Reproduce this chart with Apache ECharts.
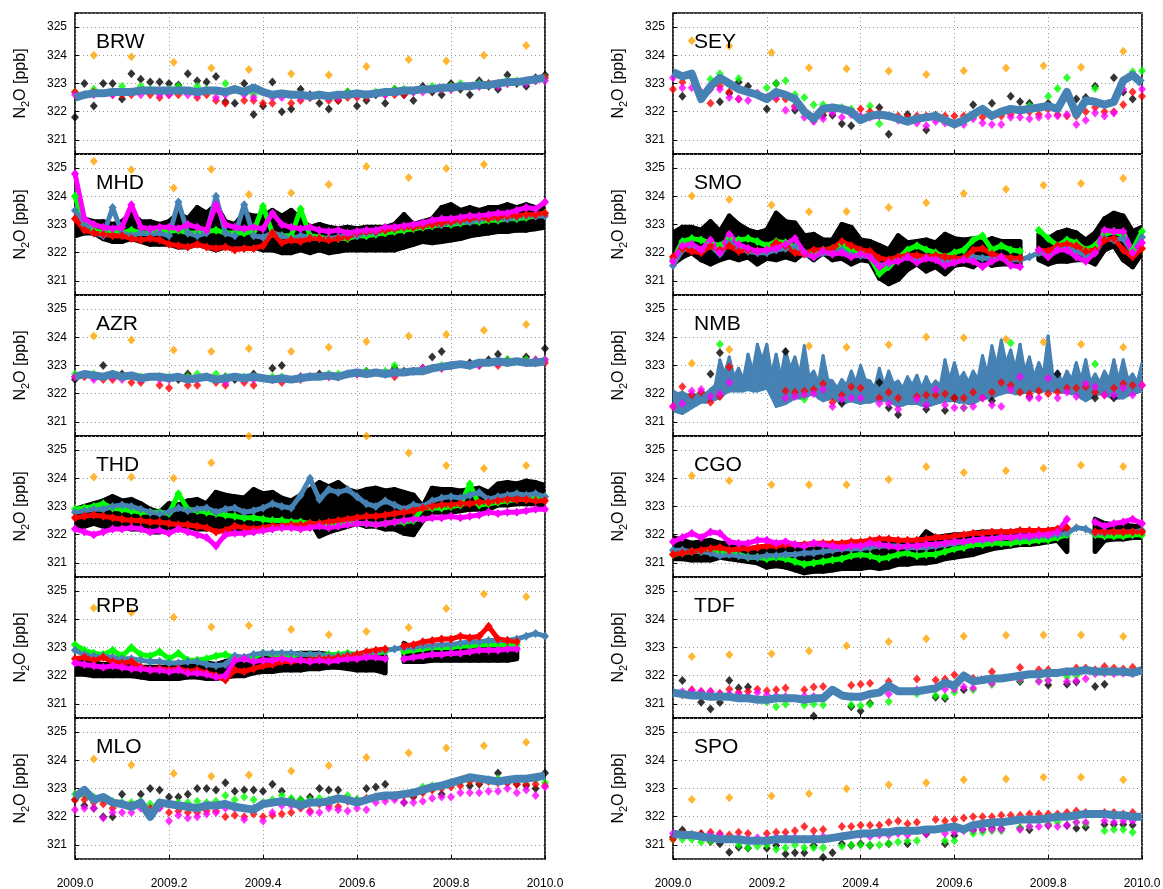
<!DOCTYPE html>
<html><head><meta charset="utf-8">
<script src="https://cdn.jsdelivr.net/npm/echarts/dist/echarts.min.js"></script>
<style>html,body{margin:0;padding:0;background:#fff}#c{width:1163px;height:889px}</style>
</head><body><div id="c"></div>
<script>
// ---------- time axes ----------
const T = [2009.00,2009.02,2009.04,2009.06,2009.08,2009.10,2009.12,2009.14,2009.16,2009.18,
2009.20,2009.22,2009.24,2009.26,2009.28,2009.30,2009.32,2009.34,2009.36,2009.38,
2009.40,2009.42,2009.44,2009.46,2009.48,2009.50,2009.52,2009.54,2009.56,2009.58,
2009.60,2009.62,2009.64,2009.66,2009.68,2009.70,2009.72,2009.74,2009.76,2009.78,
2009.80,2009.82,2009.84,2009.86,2009.88,2009.90,2009.92,2009.94,2009.96,2009.98,2010.00];
const TF = [2009.00,2009.01,2009.02,2009.03,2009.04,2009.05,2009.06,2009.07,2009.08,2009.09,
2009.10,2009.11,2009.12,2009.13,2009.14,2009.15,2009.16,2009.17,2009.18,2009.19,
2009.20,2009.21,2009.22,2009.23,2009.24,2009.25,2009.26,2009.27,2009.28,2009.29,
2009.30,2009.31,2009.32,2009.33,2009.34,2009.35,2009.36,2009.37,2009.38,2009.39,
2009.40,2009.41,2009.42,2009.43,2009.44,2009.45,2009.46,2009.47,2009.48,2009.49,
2009.50,2009.51,2009.52,2009.53,2009.54,2009.55,2009.56,2009.57,2009.58,2009.59,
2009.60,2009.61,2009.62,2009.63,2009.64,2009.65,2009.66,2009.67,2009.68,2009.69,
2009.70,2009.71,2009.72,2009.73,2009.74,2009.75,2009.76,2009.77,2009.78,2009.79,
2009.80,2009.81,2009.82,2009.83,2009.84,2009.85,2009.86,2009.87,2009.88,2009.89,
2009.90,2009.91,2009.92,2009.93,2009.94,2009.95,2009.96,2009.97,2009.98,2009.99,2010.00];
const M = [2009.04,2009.12,2009.21,2009.29,2009.37,2009.46,2009.54,2009.62,2009.71,2009.79,2009.87,2009.96];
const X_TICKS = [2009.0,2009.2,2009.4,2009.6,2009.8,2010.0];
const Y_TICKS = [321,322,323,324,325];

// ---------- BRW ----------
const BRW_black = [321.8,323.0,322.2,323.0,323.0,322.45,323.35,323.15,323.05,323.05,
323.0,322.95,323.35,323.1,323.05,323.25,322.35,322.3,323.0,321.9,
322.2,323.05,322.0,322.1,322.8,322.6,322.3,322.1,322.4,322.7,
322.2,322.4,322.6,322.3,322.8,322.6,322.4,322.9,322.7,322.6,
323.0,322.8,322.6,323.1,322.9,322.8,323.3,323.0,322.9,323.2,323.3];
const BRW_green = [322.7,null,322.8,null,322.7,322.9,null,322.9,322.8,null,
322.8,322.9,null,322.9,322.8,null,323.0,322.8,null,322.6,
322.7,null,322.6,322.6,null,322.5,322.6,null,322.5,322.7,
null,322.6,322.7,null,322.8,322.8,null,322.8,322.9,null,
322.9,323.0,null,323.0,323.0,null,323.1,323.1,null,323.1,323.2];
const BRW_red = [322.7,322.6,322.7,null,322.6,322.6,322.6,null,322.6,322.5,
322.6,322.6,null,322.5,322.6,322.4,322.3,null,322.4,322.4,
322.3,322.3,null,322.3,322.4,322.5,null,322.4,322.4,322.5,
322.5,322.5,null,322.6,322.6,322.6,322.7,null,322.8,322.8,
322.8,322.9,null,322.9,323.0,323.0,323.0,null,323.1,323.1,323.2];
const BRW_magenta = [322.6,null,322.6,null,322.6,null,322.7,322.6,null,322.6,
322.6,null,322.6,322.6,null,322.5,322.6,null,322.6,322.5,
null,322.5,322.5,null,322.5,322.5,null,322.5,322.5,null,
322.6,322.6,null,322.6,322.7,null,322.7,322.7,null,322.8,
322.8,null,322.9,322.9,null,322.9,323.0,null,323.0,323.1,323.1];
const BRW_blue = [322.5,322.6,322.65,322.65,322.7,322.7,322.7,322.75,322.75,322.75,
322.75,322.75,322.75,322.7,322.75,322.75,322.7,322.8,322.7,322.85,
322.7,322.6,322.65,322.6,322.6,322.55,322.6,322.55,322.6,322.6,
322.65,322.6,322.65,322.7,322.7,322.75,322.75,322.8,322.8,322.85,
322.85,322.9,322.9,322.95,322.95,323.0,323.05,323.05,323.1,323.15,323.2];
const BRW_orange = [324.0,323.95,323.75,323.55,323.5,323.35,323.3,323.6,323.85,323.8,324.0,324.35];

// ---------- MHD ----------
const MHD_black_lo = [322.6,322.7,322.7,322.5,322.4,322.4,322.5,322.4,322.3,322.3,
322.3,322.2,322.2,322.3,322.2,322.1,322.2,322.3,322.3,322.2,
322.1,322.1,322.0,322.0,322.1,322.0,322.1,322.0,322.05,322.1,
322.1,322.1,322.1,322.1,322.1,322.2,322.3,322.4,322.35,322.4,
322.45,322.5,322.6,322.65,322.7,322.75,322.75,322.8,322.8,322.85,322.9];
const MHD_black_hi = [323.5,323.2,323.1,323.1,323.0,323.1,323.4,323.1,323.1,323.0,
323.1,323.4,323.2,323.6,323.4,323.7,323.1,323.0,323.4,323.3,
323.3,323.5,323.3,323.5,323.2,322.9,323.0,322.9,322.85,322.9,
322.85,322.9,322.9,322.9,323.0,323.35,323.0,323.1,323.2,323.6,
323.7,323.5,323.6,323.5,323.6,323.6,323.7,323.6,323.7,323.6,323.6];
const MHD_green = [324.0,323.0,322.8,322.7,322.8,322.7,322.8,322.7,322.7,322.8,
322.75,322.8,322.7,322.7,322.75,322.8,322.7,322.7,322.7,322.75,
323.65,322.7,322.6,322.6,323.55,322.6,322.55,322.5,322.5,322.5,
322.6,322.6,322.65,322.7,322.75,322.8,322.85,322.9,322.95,323.0,
323.0,323.05,323.1,323.1,323.15,323.15,323.2,323.2,323.25,323.3,323.4];
const MHD_red = [323.2,322.8,322.7,322.65,322.6,322.6,322.5,322.45,322.5,322.45,
322.3,322.25,322.2,322.3,322.2,322.15,322.2,322.1,322.15,322.15,
322.25,322.7,322.35,322.45,322.4,322.5,322.5,322.45,322.5,322.55,
322.7,322.75,322.75,322.8,322.85,322.9,322.9,322.95,323.0,323.05,
323.1,323.15,323.2,323.25,323.2,323.25,323.3,323.3,323.35,323.35,323.4];
const MHD_magenta = [324.8,323.2,323.0,322.9,322.85,322.9,323.7,322.9,322.85,322.9,
322.9,322.85,323.0,322.9,322.8,323.7,323.0,322.9,322.85,322.9,
322.85,323.4,323.0,322.9,322.85,322.9,322.8,322.75,322.8,322.7,
322.75,322.8,322.8,322.9,322.9,322.95,323.0,323.05,323.15,323.2,
323.2,323.25,323.3,323.3,323.35,323.4,323.4,323.5,323.6,323.55,323.8];
const MHD_blue = [323.5,323.0,322.7,322.6,323.6,322.7,322.6,322.7,322.65,322.7,
322.6,323.8,322.7,322.6,322.7,324.0,322.7,322.6,323.7,322.6,
322.55,322.7,322.6,322.5,322.6,322.55,322.5,322.5,322.55,322.6,
322.6,322.7,322.7,322.8,322.85,322.9,322.9,322.95,323.0,323.0,
323.05,323.1,323.1,323.15,323.2,323.2,323.2,323.25,323.3,323.3,323.3];
const MHD_orange = [325.24,324.94,324.29,324.96,324.06,324.12,324.42,325.06,324.67,324.99,325.13,null];

// ---------- AZR ----------
const AZR_black = [322.5,null,322.6,323.0,null,322.7,null,322.5,null,322.6,
null,322.5,322.7,null,322.6,null,322.6,322.5,null,322.7,
null,322.9,323.0,null,322.6,null,322.7,null,322.6,322.7,
null,322.8,null,322.7,322.9,322.8,null,322.9,323.3,323.5,
323.0,null,323.1,null,323.2,323.4,323.2,null,323.3,323.1,323.6];
const AZR_green = [322.7,null,322.7,null,322.7,322.6,null,322.6,null,322.6,
322.6,null,322.6,322.7,null,322.7,322.6,null,322.6,322.6,
null,322.6,322.6,null,322.6,322.6,null,322.7,322.7,null,
322.7,322.8,null,322.8,323.0,null,322.8,322.9,null,323.0,
323.0,null,323.0,323.1,null,323.1,323.2,null,323.2,323.2,323.2];
const AZR_red = [322.6,322.6,null,322.5,322.5,null,322.4,322.4,null,322.3,
322.2,null,322.3,322.3,null,322.4,322.3,null,322.4,322.3,
null,322.5,322.4,null,322.5,322.6,null,322.6,322.6,null,
322.7,322.7,null,322.7,322.6,null,322.8,322.9,null,322.9,
323.0,null,323.0,323.0,null,323.0,323.1,null,323.1,323.1,323.1];
const AZR_magenta = [322.6,null,322.5,null,322.6,322.5,null,322.5,null,322.5,
322.5,null,322.5,322.5,null,322.5,322.4,null,322.5,322.5,
null,322.5,322.5,null,322.6,322.6,null,322.6,322.6,null,
322.7,322.7,null,322.7,322.7,null,322.8,322.9,null,322.9,
323.0,null,323.0,323.0,null,323.1,323.1,null,323.1,323.2,323.2];
const AZR_blue = [322.6,322.7,322.65,322.6,322.7,322.6,322.65,322.55,322.6,322.6,
322.55,322.6,322.5,322.55,322.6,322.5,322.55,322.6,322.55,322.6,
322.55,322.5,322.55,322.5,322.55,322.6,322.6,322.65,322.6,322.7,
322.75,322.7,322.75,322.7,322.75,322.75,322.8,322.8,322.9,322.95,
323.0,323.05,323.0,323.1,323.1,323.15,323.1,323.15,323.1,323.1,323.15];
const AZR_orange = [324.05,323.9,323.55,323.5,323.6,323.5,323.65,323.85,324.05,324.1,324.25,324.45];

// ---------- THD ----------
const THD_black_lo = [322.2,322.3,322.4,322.3,322.2,322.3,322.2,322.2,322.1,322.1,
322.2,322.3,322.3,322.2,322.2,322.3,322.2,322.2,322.2,322.2,
322.2,322.4,322.4,322.3,322.3,322.5,321.95,322.1,322.2,322.3,
322.4,322.3,322.3,322.2,322.2,322.05,322.0,322.5,322.8,322.8,
322.8,322.85,322.9,322.9,322.9,323.05,323.05,323.1,323.1,323.1,323.0];
const THD_black_hi = [322.9,323.0,323.1,323.2,323.35,323.2,323.25,323.1,322.9,322.8,
323.1,323.05,323.2,323.25,323.1,323.5,323.4,323.35,323.3,323.6,
323.45,323.5,323.3,323.2,323.4,323.6,323.85,323.7,323.85,323.6,
323.5,323.6,323.65,323.55,323.6,323.5,323.4,323.0,323.65,323.6,
323.6,323.55,323.6,323.65,323.5,323.8,323.85,323.8,323.9,323.85,323.75];
const THD_green = [322.9,322.95,323.0,323.1,322.95,322.9,322.85,322.8,322.8,322.8,
322.75,323.45,322.9,322.85,322.8,322.75,322.7,322.65,322.6,322.6,
322.55,322.5,322.5,322.45,322.45,322.4,322.4,322.35,322.35,322.4,
322.4,322.4,322.35,322.4,322.45,322.45,322.5,322.95,322.95,322.95,
323.0,323.05,323.8,323.05,323.1,323.15,323.2,323.25,323.25,323.3,323.35];
const THD_red = [322.6,322.65,322.7,322.65,322.6,322.55,322.5,322.5,322.45,322.45,
322.4,322.35,322.35,322.3,322.25,322.1,322.15,322.3,322.25,322.2,
322.25,322.3,322.3,322.35,322.35,322.4,322.4,322.45,322.5,322.55,
322.6,322.65,322.65,322.7,322.75,322.8,322.85,322.95,323.0,323.05,
323.05,323.1,323.1,323.15,323.15,323.2,323.25,323.25,323.25,323.2,323.2];
const THD_magenta = [322.2,322.1,322.0,322.1,322.2,322.2,322.25,322.2,322.1,322.15,
322.05,322.2,322.1,322.0,321.9,321.6,322.0,322.05,322.05,322.1,
322.15,322.2,322.25,322.25,322.2,322.25,322.3,322.25,322.3,322.35,
322.4,322.4,322.35,322.4,322.45,322.5,322.55,322.55,322.6,322.6,
322.65,322.6,322.65,322.7,322.8,322.75,322.8,322.8,322.85,322.9,322.9];
const THD_blue = [322.8,322.85,322.9,322.9,323.0,323.05,323.0,322.9,322.8,322.75,
322.8,322.95,322.85,322.9,322.95,322.8,322.9,322.95,322.8,322.85,
322.95,323.1,323.0,322.95,323.4,324.0,323.25,323.6,323.5,323.6,
323.35,323.1,323.0,323.2,323.05,322.9,323.05,323.0,323.2,323.3,
323.35,323.3,323.4,323.5,323.25,323.35,323.4,323.45,323.4,323.45,323.35];
const THD_orange = [324.05,324.05,324.0,324.55,325.5,null,null,325.5,324.9,324.45,324.35,324.45];

// ---------- RPB ----------
const RPB_black_lo = [322.05,322.05,322.0,322.0,322.0,322.0,322.0,321.95,321.9,321.9,
321.9,321.9,321.95,321.95,321.9,321.9,321.95,322.0,322.0,322.1,
322.15,322.15,322.2,322.2,322.2,322.25,322.25,322.3,322.3,322.25,
322.2,322.2,322.2,322.1,null,322.5,322.5,322.5,322.55,322.55,
322.55,322.55,322.55,322.55,322.55,322.55,322.55,322.6,null,null,null];
const RPB_black_hi = [322.5,322.5,322.45,322.4,322.4,322.4,322.35,322.3,322.3,322.3,
322.3,322.35,322.4,322.5,322.45,322.4,322.5,322.6,322.55,322.65,
322.7,322.75,322.8,322.75,322.8,322.8,322.8,322.75,322.75,322.75,
322.7,322.7,322.75,322.7,null,323.15,322.95,322.9,322.9,322.95,
322.95,322.95,322.95,322.95,322.95,322.95,322.95,323.0,null,null,null];
const RPB_green = [323.1,322.9,322.8,322.75,322.9,322.7,323.0,322.75,322.7,322.85,
322.6,322.8,322.55,322.55,322.6,322.7,322.75,322.65,322.6,322.65,
322.8,322.75,322.75,322.7,322.75,322.75,322.7,322.75,322.75,322.8,
322.75,322.8,322.8,322.85,null,322.85,322.9,322.95,323.0,323.0,
323.0,323.05,323.05,323.1,323.1,323.1,323.1,323.1,null,null,null];
const RPB_red = [322.6,322.65,322.55,322.65,322.5,322.45,322.5,322.3,322.2,322.25,
322.2,322.25,322.15,322.2,322.1,322.0,321.85,322.2,322.15,322.25,
322.35,322.4,322.5,322.5,322.55,322.55,322.6,322.6,322.65,322.7,
322.75,322.85,322.9,322.95,null,323.05,323.1,323.2,323.25,323.3,
323.3,323.4,323.35,323.4,323.75,323.3,323.25,323.2,null,null,null];
const RPB_magenta = [322.45,322.4,322.35,322.3,322.35,322.3,322.25,322.25,322.2,322.2,
322.15,322.2,322.1,322.1,322.05,321.95,322.0,322.55,322.6,322.5,
322.55,322.55,322.6,322.55,322.55,322.5,322.55,322.5,322.55,322.6,
322.6,322.65,322.65,322.6,null,322.6,322.65,322.7,322.75,322.75,
322.8,322.8,322.85,322.9,322.9,322.9,322.95,322.95,null,null,null];
const RPB_blue = [322.9,322.75,322.7,322.7,322.65,322.6,322.6,322.55,322.5,322.5,
322.45,322.45,322.5,322.5,322.4,322.35,322.4,322.7,322.65,322.75,
322.8,322.8,322.8,322.8,322.75,322.75,322.75,322.7,322.7,322.75,
322.75,322.8,322.85,322.9,322.95,323.0,323.0,323.05,323.05,323.1,
323.1,323.15,323.2,323.2,323.25,323.25,323.25,323.3,323.4,323.5,323.4];
const RPB_orange = [324.4,324.24,324.07,323.73,323.78,323.64,323.45,323.57,323.71,324.38,324.9,324.8];

// ---------- MLO ----------
const MLO_black = [322.6,322.4,322.3,322.0,322.0,322.8,322.4,322.8,323.0,322.95,
322.7,322.7,322.8,323.0,323.0,322.95,323.2,322.9,322.95,322.95,
322.9,323.15,322.9,322.6,322.6,322.7,323.0,322.95,322.95,322.6,
322.6,323.0,323.05,323.15,322.7,322.5,322.7,322.9,323.0,322.8,
323.2,323.25,323.1,323.15,323.3,323.55,323.2,323.15,323.1,323.0,323.55];
const MLO_green = [322.8,322.75,322.7,322.6,322.55,322.5,322.5,322.55,322.45,322.5,
322.45,322.5,322.5,322.55,322.5,322.55,322.75,322.6,322.7,322.6,
322.5,322.6,322.75,322.65,322.6,322.6,322.65,322.6,322.65,322.75,
322.6,322.6,322.7,322.7,322.75,322.8,322.85,323.05,323.1,323.1,
323.15,323.25,323.3,323.3,323.3,323.35,323.25,323.3,323.3,323.3,323.2];
const MLO_red = [322.6,322.6,322.5,322.45,322.3,322.45,322.4,322.45,322.3,322.35,
322.15,322.2,322.15,322.15,322.2,322.2,322.0,322.05,322.0,322.1,
322.0,322.05,322.1,322.15,322.3,322.2,322.45,322.4,322.35,322.55,
322.5,322.65,322.7,322.7,322.75,322.75,322.75,322.85,322.95,323.0,
323.05,323.1,323.25,323.2,323.25,323.2,323.2,323.15,323.15,323.15,323.1];
const MLO_magenta = [322.25,322.3,322.3,321.95,322.15,322.15,322.15,322.3,322.0,322.3,
321.85,322.05,321.95,322.0,322.1,322.15,322.3,322.3,321.9,322.3,
321.85,322.15,322.4,322.4,322.35,322.15,322.15,322.3,322.25,322.2,
322.3,322.25,322.5,322.55,322.6,322.5,322.5,322.55,322.65,322.7,
322.7,322.85,322.85,322.85,322.9,322.9,323.0,322.85,322.95,322.75,323.05];
const MLO_blue = [322.7,322.95,322.6,322.7,322.5,322.45,322.35,322.5,322.0,322.5,
322.45,322.4,322.35,322.3,322.4,322.4,322.45,322.35,322.3,322.25,
322.45,322.5,322.55,322.5,322.4,322.5,322.5,322.55,322.65,322.6,
322.5,322.6,322.7,322.75,322.75,322.8,322.85,322.95,323.05,323.1,
323.2,323.3,323.4,323.35,323.3,323.25,323.3,323.35,323.35,323.4,323.45];
const MLO_orange = [324.05,323.83,323.53,323.43,323.48,323.62,323.82,324.1,324.26,324.44,324.52,324.64];

// ---------- SEY ----------
const SEY_black = [null,322.55,null,null,null,322.35,322.65,323.05,322.9,null,
322.1,323.0,null,322.05,null,null,321.87,321.87,321.57,321.5,
321.75,null,322.15,321.2,null,321.9,null,321.35,321.87,null,
null,null,322.25,322.05,322.3,null,322.55,322.35,322.3,null,
322.3,null,null,322.45,322.5,322.9,null,323.2,322.7,322.45,null];
const SEY_green = [null,null,null,null,323.15,323.35,null,323.18,null,322.65,
322.85,323.0,323.1,322.6,322.5,322.25,322.25,null,322.15,322.1,
null,322.2,321.57,null,null,null,null,null,null,null,
null,null,321.8,null,null,null,null,null,322.2,null,
322.55,322.82,323.2,null,null,322.82,null,null,null,323.42,323.45];
const SEY_red = [322.8,323.05,null,null,322.3,322.9,322.7,322.45,null,null,
322.5,322.45,322.45,322.2,null,321.7,322.0,322.1,null,322.0,
322.1,322.0,321.95,null,321.85,321.8,321.85,321.85,321.8,321.85,
321.85,321.85,321.9,321.8,321.85,321.85,321.9,322.0,322.0,321.9,
322.1,321.9,321.85,321.85,322.0,322.15,322.0,322.0,322.25,322.7,322.55];
const SEY_magenta = [323.2,322.85,322.85,322.7,322.8,322.8,322.5,322.45,322.4,322.65,
322.5,322.55,322.05,322.15,321.8,321.65,321.75,321.95,321.8,321.9,
321.85,321.8,321.85,321.85,321.7,321.65,321.6,321.5,321.65,321.6,
321.55,321.55,321.75,321.6,321.55,321.55,321.8,321.8,321.75,321.8,
321.85,321.85,321.9,321.55,321.7,321.95,321.85,321.95,322.8,323.3,322.8];
const SEY_blue = [323.4,323.25,323.35,322.45,322.9,323.2,323.0,322.8,322.7,322.6,
322.45,322.7,322.6,322.45,322.0,321.75,322.1,322.15,322.1,322.0,
321.7,321.85,321.9,321.85,321.75,321.65,321.75,321.8,321.85,321.7,
321.55,321.7,321.9,322.1,321.85,322.0,322.1,322.05,322.1,322.15,
322.2,322.1,322.7,321.9,322.4,322.35,322.25,322.35,323.1,323.3,323.0];
const SEY_orange = [324.52,324.33,324.1,323.56,323.52,323.44,323.32,323.45,323.55,323.63,323.58,324.14];

// ---------- SMO ----------
const SMO_black_lo = [321.6,321.85,322.0,321.75,321.6,321.75,321.85,321.75,321.85,321.6,
321.8,321.75,321.85,321.75,322.0,321.75,322.0,321.75,321.8,321.6,
321.75,321.7,321.1,320.9,321.05,321.4,321.6,321.35,321.5,321.25,
321.55,321.6,321.5,321.75,321.55,321.6,321.6,321.6,null,321.75,
321.6,321.7,321.7,321.75,321.75,321.6,322.1,322.25,321.75,321.5,322.0];
const SMO_black_hi = [322.7,322.9,322.9,322.8,323.1,322.75,323.3,323.0,322.8,322.7,
322.8,323.4,323.1,323.05,322.6,322.65,322.45,322.45,323.0,322.9,
322.45,322.4,322.25,322.1,322.6,322.35,322.4,322.45,322.35,322.65,
322.5,322.45,322.5,322.35,322.5,322.4,322.4,322.4,null,322.65,
322.5,322.7,322.8,322.7,322.45,322.7,323.2,323.4,323.3,322.75,322.9];
const SMO_green = [321.75,322.4,322.5,322.45,322.35,322.25,322.5,322.45,322.5,322.4,
322.25,322.4,322.35,322.2,322.0,322.05,322.1,322.15,322.3,322.1,
322.05,321.85,321.25,321.5,321.8,322.1,322.25,322.1,322.0,321.85,
322.0,322.1,322.45,322.6,322.1,322.25,322.1,322.05,null,322.8,
322.5,322.25,322.45,322.35,322.1,322.25,322.65,322.75,322.6,322.1,322.75];
const SMO_red = [321.85,322.15,322.05,322.0,322.25,322.1,322.25,322.05,322.1,322.05,
322.1,322.35,322.25,322.0,321.95,322.1,322.1,322.15,322.4,322.25,
322.1,322.05,321.8,321.75,321.85,321.9,321.9,321.85,321.9,321.85,
321.8,321.8,322.1,322.15,321.95,321.85,321.8,321.8,null,322.1,
322.05,322.25,322.3,322.25,322.05,322.1,322.45,322.5,322.1,321.85,322.15];
const SMO_magenta = [321.7,322.25,322.3,322.1,322.45,322.0,322.65,322.3,322.15,322.05,
322.1,322.15,322.3,322.5,322.0,321.85,322.05,321.95,322.0,321.85,
321.95,321.85,321.5,321.65,321.7,321.85,321.65,321.8,321.75,321.55,
321.65,321.75,321.7,321.5,321.7,321.85,321.55,321.5,null,322.1,
321.85,322.1,322.1,321.85,321.7,322.0,322.8,322.75,322.75,322.0,322.35];
const SMO_blue = [321.55,322.1,322.2,322.05,322.25,321.95,322.35,322.15,322.05,322.0,
322.0,322.1,322.15,322.2,321.95,321.85,322.0,321.95,322.1,321.9,
321.9,321.85,321.55,321.6,321.75,321.85,321.75,321.85,321.8,321.7,
321.75,321.8,321.85,321.8,321.8,321.85,321.75,321.75,321.85,322.0,
321.95,322.15,322.2,322.05,321.9,322.0,322.5,322.45,322.5,322.0,322.55];
const SMO_orange = [324.01,323.89,323.69,323.45,323.46,323.6,323.77,324.1,324.25,324.39,324.45,324.64];

// ---------- NMB ----------
const NMB_black = [null,null,null,null,322.7,323.45,null,null,null,null,
null,null,323.5,null,null,null,null,null,321.65,null,
null,null,322.4,321.5,321.25,null,null,321.45,null,321.4,
321.85,null,null,null,321.75,null,null,null,321.9,null,
null,322.7,null,null,null,321.85,null,321.85,null,null,null];
const NMB_green = [null,null,null,null,null,323.75,null,null,null,null,
null,null,null,null,321.8,null,null,null,null,null,
null,null,null,null,null,null,null,null,null,null,
null,321.5,null,null,null,null,323.8,null,null,null,
null,null,null,null,null,323.05,null,null,null,null,null];
const NMB_red = [321.55,322.25,321.95,322.05,321.7,321.9,322.95,null,null,null,
null,null,322.1,322.05,322.1,322.15,322.35,321.7,321.95,322.25,
322.2,null,321.85,322.05,321.85,null,321.9,321.95,321.95,322.0,
321.85,321.85,322.05,321.85,322.05,322.4,322.3,322.05,322.0,322.1,
322.0,322.05,322.2,322.2,322.25,322.05,321.95,322.2,322.35,322.3,322.3];
const NMB_magenta = [321.55,321.65,322.1,322.15,321.9,322.0,322.4,null,null,null,
null,null,321.85,321.9,321.95,322.0,322.15,321.55,321.8,321.85,
321.85,null,321.65,321.65,321.45,null,321.8,321.6,322.15,321.6,
321.5,321.5,321.55,321.85,321.6,321.55,322.15,322.6,321.85,321.85,
322.55,321.85,322.05,321.9,322.35,322.25,321.95,321.95,322.2,321.95,322.3];
// NMB continuous record: envelope on a 0.01-year grid (TF)
const NMB_blue_lo = [321.4,321.35,321.3,321.4,321.5,321.6,321.7,321.7,321.75,321.8,
321.85,322.0,322.1,322.1,322.1,322.1,322.15,322.1,322.1,322.15,
322.2,321.9,321.55,321.6,321.65,321.75,321.85,321.85,321.85,321.95,
322.0,321.85,321.75,321.8,321.85,321.75,321.65,321.7,321.75,321.7,
321.65,321.7,321.7,321.75,321.75,321.75,321.75,321.65,321.55,321.6,
321.65,321.65,321.65,321.6,321.55,321.6,321.65,321.7,321.75,321.75,
321.75,321.7,321.7,321.65,321.65,321.75,321.85,321.85,321.85,321.95,
322.0,322.05,322.05,322.0,322.0,322.05,322.1,322.1,322.05,322.1,
322.1,322.1,322.1,322.05,322.05,322.0,322.0,321.85,321.75,321.85,
321.95,322.0,322.0,321.9,321.85,321.85,321.85,321.95,322.0,322.05,322.1];
const NMB_blue_hi = [322.1,322.0,322.05,321.95,322.0,321.95,322.1,322.0,322.15,322.3,
323.2,322.7,323.3,322.6,322.9,322.5,323.4,322.8,323.75,323.2,
323.75,322.7,323.4,322.6,323.55,322.9,323.3,322.7,323.7,322.6,
322.8,322.4,323.35,322.5,322.45,322.2,322.5,322.3,322.8,322.4,
323.0,322.5,322.45,322.2,322.9,322.3,322.8,322.35,322.45,322.2,
322.6,322.3,322.65,322.2,322.6,322.25,322.45,322.3,323.2,322.5,
323.1,322.5,322.75,322.4,322.8,322.5,323.35,322.7,323.7,323.0,
323.9,323.1,323.55,322.9,323.75,322.8,323.3,322.6,323.1,322.7,
324.05,322.6,322.8,322.4,322.8,322.5,323.1,322.5,323.2,322.4,
322.7,322.4,322.8,322.5,323.2,322.5,323.2,322.5,322.7,322.4,323.1];
const NMB_orange = [323.08,323.57,null,323.69,323.65,323.74,324.01,323.98,323.93,323.83,323.75,323.65];

// ---------- CGO ----------
const CGO_black_lo = [321.15,321.15,321.1,321.1,321.1,321.2,321.15,321.1,321.05,321.0,
320.85,320.9,320.85,320.75,320.65,320.7,320.7,320.75,320.8,320.8,
320.8,320.85,320.8,320.85,320.95,320.95,321.0,321.0,321.05,321.15,
321.2,321.25,321.3,321.4,321.5,321.55,321.6,321.65,321.65,321.7,
321.75,321.8,321.4,null,null,321.4,321.8,321.85,321.85,321.9,321.9];
const CGO_black_hi = [321.9,321.8,321.7,321.75,321.8,321.7,321.7,321.6,321.5,321.55,
321.6,321.55,321.5,321.5,321.45,321.5,321.5,321.55,321.6,321.6,
321.65,321.75,321.8,321.8,321.8,321.75,321.7,322.1,321.9,321.95,
322.0,322.0,322.05,322.1,322.1,322.1,322.1,322.15,322.15,322.15,
322.15,322.2,322.25,null,null,322.55,322.4,322.35,322.35,322.3,322.3];
const CGO_green = [321.3,321.35,321.4,321.4,321.45,321.35,321.35,321.3,321.2,321.2,
321.15,321.2,321.15,321.05,320.95,321.0,321.05,321.1,321.15,321.25,
321.3,321.25,321.15,321.2,321.3,321.35,321.25,321.3,321.3,321.4,
321.5,321.55,321.65,321.65,321.7,321.7,321.7,321.75,321.76,321.8,
321.82,321.9,322.0,null,null,322.0,321.95,321.95,321.95,322.0,322.0];
const CGO_red = [321.3,321.35,321.4,321.45,321.5,321.55,321.45,321.5,321.5,321.55,
321.6,321.6,321.65,321.65,321.65,321.7,321.7,321.7,321.7,321.75,
321.75,321.8,321.85,321.85,321.8,321.8,321.8,321.85,321.9,321.9,
321.95,322.0,322.05,322.05,322.1,322.1,322.1,322.15,322.15,322.15,
322.15,322.2,322.25,null,null,322.1,322.1,322.1,322.1,322.1,322.1];
const CGO_magenta = [321.75,321.9,322.05,321.9,322.1,322.05,321.75,321.7,321.7,321.8,
321.8,321.7,321.75,321.65,321.6,321.7,321.65,321.6,321.55,321.6,
321.6,321.7,321.65,321.6,321.55,321.6,321.6,321.65,321.65,321.7,
321.75,321.75,321.8,321.85,321.85,321.9,321.9,321.95,321.95,322.0,
322.0,322.1,322.55,null,null,322.45,322.3,322.4,322.45,322.55,322.4];
const CGO_blue = [321.45,321.45,321.4,321.4,321.35,321.25,321.3,321.25,321.2,321.2,
321.25,321.25,321.3,321.3,321.35,321.35,321.4,321.45,321.5,321.5,
321.5,321.55,321.6,321.6,321.6,321.55,321.55,321.55,321.6,321.65,
321.7,321.75,321.8,321.8,321.85,321.9,321.9,321.9,321.9,321.95,
321.95,322.0,322.05,322.25,322.2,322.05,322.05,322.1,322.1,322.1,322.15];
const CGO_orange = [324.09,323.91,323.77,323.77,323.77,323.96,324.41,324.21,324.27,324.36,324.46,324.42];

// ---------- TDF ----------
const TDF_black = [null,321.83,null,321.06,320.82,321.05,321.83,321.56,321.6,null,
null,null,null,null,null,320.57,null,null,null,320.9,
320.75,321.02,null,null,null,null,null,null,321.24,321.19,
null,321.5,null,null,null,null,null,321.79,null,null,
321.67,null,321.7,321.78,null,321.62,321.7,null,null,null,null];
const TDF_green = [null,null,null,null,null,null,null,null,null,null,
321.08,320.9,320.99,null,320.96,321.0,320.96,null,null,320.96,
320.93,320.99,null,321.08,null,null,321.36,null,321.3,321.26,
321.41,null,321.5,null,321.69,null,null,321.85,null,321.82,
321.85,null,321.95,322.0,null,null,null,null,null,null,null];
const TDF_red = [null,321.32,321.5,321.44,321.44,321.38,321.52,321.4,321.44,321.52,
321.47,321.5,321.56,null,321.5,321.6,321.62,null,null,321.66,
321.7,321.73,null,321.79,null,null,321.88,null,321.85,321.88,
322.03,322.0,321.91,null,322.14,null,null,322.29,null,322.21,
322.21,null,322.14,322.27,322.27,322.21,322.33,322.27,322.24,322.3,null];
const TDF_magenta = [null,321.44,321.47,321.44,321.44,321.35,321.35,321.35,321.28,321.4,
321.32,321.28,321.26,null,321.28,321.26,321.22,null,null,321.26,
321.26,321.34,null,321.35,null,null,321.5,null,321.56,321.52,
321.52,321.6,321.56,null,321.73,null,null,321.88,null,321.79,
321.83,null,321.79,321.82,321.89,322.07,322.09,322.07,322.09,322.07,null];
const TDF_blue = [321.4,321.35,321.3,321.3,321.25,321.25,321.25,321.2,321.2,321.15,
321.15,321.2,321.2,321.2,321.15,321.2,321.2,321.5,321.3,321.25,
321.25,321.35,321.4,321.65,321.45,321.45,321.45,321.5,321.55,321.75,
321.65,322.0,321.8,321.85,321.9,321.9,321.95,322.0,322.05,322.05,
322.1,322.1,322.15,322.15,322.2,322.15,322.15,322.15,322.15,322.1,322.2];
const TDF_orange = [322.68,322.74,322.78,322.88,323.06,323.2,323.31,323.4,323.43,323.44,323.44,323.39];

// ---------- SPO ----------
const SPO_black = [321.27,321.53,321.37,321.39,321.12,321.04,320.74,320.92,320.88,null,
320.88,320.98,320.68,320.72,320.72,320.98,320.56,320.72,321.04,320.98,
321.04,320.98,321.47,321.04,null,321.04,null,321.39,null,321.04,
321.33,null,321.51,321.54,321.6,321.57,null,321.6,321.54,null,
321.69,null,321.69,321.59,321.63,null,321.72,321.72,321.72,321.71,null];
const SPO_green = [321.2,321.2,321.2,321.1,321.15,null,null,321.0,320.9,320.95,
321.0,320.85,320.9,321.0,320.9,320.9,320.9,null,320.95,321.0,
321.0,321.0,321.0,321.05,321.1,321.15,321.15,null,null,321.15,
321.15,null,321.4,321.45,321.5,321.5,null,321.6,321.65,null,
321.75,321.8,null,321.8,321.75,null,321.5,321.55,321.55,321.45,null];
const SPO_red = [321.2,321.4,321.35,321.4,321.45,321.4,321.35,321.45,321.4,null,
321.4,321.45,321.45,321.5,321.65,321.5,321.55,null,321.65,321.65,
321.7,321.7,321.7,321.8,321.85,321.75,321.8,null,321.9,321.85,
321.9,321.95,322.0,322.0,322.0,322.05,322.05,322.05,322.1,322.1,
322.1,322.1,322.15,322.2,322.15,null,322.15,322.15,322.1,322.15,null];
const SPO_magenta = [321.4,321.35,321.35,321.3,321.35,321.35,null,321.25,321.2,321.25,
321.2,321.25,321.25,321.25,321.2,321.25,321.3,null,321.3,321.35,
321.35,321.3,321.35,321.35,321.4,321.35,null,321.4,null,321.4,
321.45,321.5,321.55,321.55,321.55,321.55,null,321.55,321.65,321.65,
321.7,321.65,321.7,321.8,321.8,null,321.85,321.8,321.85,321.85,null];
const SPO_blue = [321.4,321.35,321.35,321.3,321.25,321.2,321.2,321.2,321.15,321.15,
321.15,321.2,321.2,321.2,321.2,321.2,321.2,321.25,321.3,321.35,
321.4,321.4,321.45,321.45,321.5,321.5,321.5,321.55,321.55,321.6,
321.65,321.55,321.7,321.75,321.8,321.8,321.85,321.9,321.9,321.9,
321.95,322.0,322.0,322.05,322.1,322.1,322.1,322.05,322.05,322.0,322.0];
const SPO_orange = [322.61,322.67,322.73,322.81,322.99,323.13,323.2,323.31,323.34,323.4,323.4,323.31];

// ---------- panel definitions ----------
const PANELS = [
  {id:'BRW', col:0, row:0, kind:'sparse', black:BRW_black, green:BRW_green, red:BRW_red, magenta:BRW_magenta, blue:BRW_blue, orange:BRW_orange},
  {id:'MHD', col:0, row:1, kind:'dense', blackLo:MHD_black_lo, blackHi:MHD_black_hi, green:MHD_green, red:MHD_red, magenta:MHD_magenta, blue:MHD_blue, orange:MHD_orange},
  {id:'AZR', col:0, row:2, kind:'sparse', black:AZR_black, green:AZR_green, red:AZR_red, magenta:AZR_magenta, blue:AZR_blue, orange:AZR_orange},
  {id:'THD', col:0, row:3, kind:'dense', blackLo:THD_black_lo, blackHi:THD_black_hi, green:THD_green, red:THD_red, magenta:THD_magenta, blue:THD_blue, orange:THD_orange},
  {id:'RPB', col:0, row:4, kind:'dense', blackLo:RPB_black_lo, blackHi:RPB_black_hi, green:RPB_green, red:RPB_red, magenta:RPB_magenta, blue:RPB_blue, orange:RPB_orange},
  {id:'MLO', col:0, row:5, kind:'sparse', black:MLO_black, green:MLO_green, red:MLO_red, magenta:MLO_magenta, blue:MLO_blue, orange:MLO_orange},
  {id:'SEY', col:1, row:0, kind:'sparse', black:SEY_black, green:SEY_green, red:SEY_red, magenta:SEY_magenta, blue:SEY_blue, orange:SEY_orange},
  {id:'SMO', col:1, row:1, kind:'dense', blackLo:SMO_black_lo, blackHi:SMO_black_hi, green:SMO_green, red:SMO_red, magenta:SMO_magenta, blue:SMO_blue, orange:SMO_orange},
  {id:'NMB', col:1, row:2, kind:'blueband', black:NMB_black, green:NMB_green, red:NMB_red, magenta:NMB_magenta, blueLo:NMB_blue_lo, blueHi:NMB_blue_hi, orange:NMB_orange},
  {id:'CGO', col:1, row:3, kind:'dense', blackLo:CGO_black_lo, blackHi:CGO_black_hi, green:CGO_green, red:CGO_red, magenta:CGO_magenta, blue:CGO_blue, orange:CGO_orange},
  {id:'TDF', col:1, row:4, kind:'sparse', black:TDF_black, green:TDF_green, red:TDF_red, magenta:TDF_magenta, blue:TDF_blue, orange:TDF_orange},
  {id:'SPO', col:1, row:5, kind:'sparse', black:SPO_black, green:SPO_green, red:SPO_red, magenta:SPO_magenta, blue:SPO_blue, orange:SPO_orange}
];

// ---------- styling / layout ----------
const FONT = '"Liberation Sans", Arial, Helvetica, sans-serif';
const C = {black:'#000000', green:'#00ff00', red:'#ff0000', magenta:'#ff00ff', blue:'#4682b4', orange:'#ffa500'};
const GRID_LEFT = [75, 673], GRID_WIDTH = [470, 469], GRID_TOP0 = 13, GRID_H = 141;
const DIAMOND = [8, 9];

function lineData(vals){ return vals.map((v,i)=>[T[i], v==null ? '-' : v]); }
function pointData(vals, times){ const out=[]; vals.forEach((v,i)=>{ if(v!=null) out.push([times[i], v]); }); return out; }
function bandData(times, lo, hi){
  const out=[];
  for(let i=0;i<times.length-1;i++){
    if(lo[i]!=null && hi[i]!=null && lo[i+1]!=null && hi[i+1]!=null)
      out.push([times[i], lo[i], hi[i], times[i+1], lo[i+1], hi[i+1]]);
  }
  return out;
}
function bandRender(color, w){
  return function(params, api){
    const p1 = api.coord([api.value(0), api.value(1)]);
    const p2 = api.coord([api.value(3), api.value(4)]);
    const p3 = api.coord([api.value(3), api.value(5)]);
    const p4 = api.coord([api.value(0), api.value(2)]);
    return {type:'polygon', shape:{points:[p1,p2,p3,p4]},
            style:{fill:color, stroke:color, lineWidth:w, lineJoin:'round'}};
  };
}

const grids=[], xAxes=[], yAxes=[], series=[], titles=[];
PANELS.forEach((p,k)=>{
  const left = GRID_LEFT[p.col], top = GRID_TOP0 + GRID_H*p.row;
  grids.push({left:left, top:top, width:GRID_WIDTH[p.col], height:GRID_H, show:true,
              borderColor:'#000', borderWidth:1.6, backgroundColor:'rgba(0,0,0,0)', containLabel:false, outerBoundsMode:'none'});
  xAxes.push({type:'value', gridIndex:k, min:X_TICKS[0], max:X_TICKS[X_TICKS.length-1], interval:0.2,
    axisLine:{show:false}, axisTick:{show:true, inside:true, length:4, lineStyle:{color:'#000'}},
    axisLabel:{show:p.row===5, formatter:v=>v.toFixed(1), fontSize:12, color:'#000', fontFamily:FONT, margin:19},
    splitLine:{show:true, lineStyle:{type:[1,3], color:'#999', width:1}}});
  yAxes.push({type:'value', gridIndex:k, min:320.5, max:325.5, splitNumber:5,
    axisLine:{show:false}, axisTick:{show:true, inside:true, length:4, lineStyle:{color:'#000'}},
    axisLabel:{formatter:v=>(Y_TICKS.indexOf(Math.round(v*10)/10)>=0 ? String(Math.round(v)) : ''), fontSize:12, color:'#000', fontFamily:FONT, margin:8},
    splitLine:{show:true, lineStyle:{type:[1,3], color:'#999', width:1}},
    name:'{a|N}{b|2}{a|O [ppb]}', nameLocation:'middle', nameRotate:90, nameGap:44,
    nameTextStyle:{rich:{a:{fontSize:16, fontFamily:FONT, color:'#000', lineHeight:20, verticalAlign:'middle'},
                         b:{fontSize:11, fontFamily:FONT, color:'#000', verticalAlign:'bottom'}}}});
  titles.push({text:p.id, left:left+21, top:top+19, padding:0,
               textStyle:{fontSize:21, fontWeight:'normal', color:'#000', fontFamily:FONT}});

  const ax = {xAxisIndex:k, yAxisIndex:k, silent:true, animation:false};
  const scatter = (vals, times, color)=>Object.assign({type:'scatter', data:pointData(vals, times), symbol:'diamond', symbolSize:DIAMOND, itemStyle:{color:color}}, ax);
  const dline = (vals, color)=>Object.assign({type:'line', data:lineData(vals), symbol:'diamond', symbolSize:DIAMOND, showSymbol:true, connectNulls:false,
        lineStyle:{width:5, color:color}, itemStyle:{color:color}}, ax);
  const band = (times, lo, hi, color, w)=>Object.assign({type:'custom', renderItem:bandRender(color, w), data:bandData(times, lo, hi),
        encode:{x:[0,3], y:[1,2,4,5]}, clip:true}, ax);

  if(p.kind==='dense'){
    series.push(band(T, p.blackLo, p.blackHi, C.black, 5));
    series.push(dline(p.green, C.green));
    series.push(dline(p.blue, C.blue));
    series.push(dline(p.red, C.red));
    series.push(dline(p.magenta, C.magenta));
  } else if(p.kind==='sparse'){
    series.push(scatter(p.black, T, C.black));
    series.push(scatter(p.green, T, C.green));
    series.push(Object.assign({type:'line', data:lineData(p.blue), symbol:'none', connectNulls:false,
        lineStyle:{width:8, color:C.blue, join:'round'}, itemStyle:{color:C.blue}}, ax));
    series.push(scatter(p.red, T, C.red));
    series.push(scatter(p.magenta, T, C.magenta));
  } else {
    series.push(scatter(p.black, T, C.black));
    series.push(scatter(p.green, T, C.green));
    series.push(band(TF, p.blueLo, p.blueHi, C.blue, 3));
    series.push(scatter(p.red, T, C.red));
    series.push(scatter(p.magenta, T, C.magenta));
  }
  series.push(scatter(p.orange, M, C.orange));
});

const chart = echarts.init(document.getElementById('c'), null, {renderer:'canvas'});
chart.setOption({
  backgroundColor:'#ffffff',
  animation:false,
  title:titles, grid:grids, xAxis:xAxes, yAxis:yAxes, series:series
});
</script></body></html>
